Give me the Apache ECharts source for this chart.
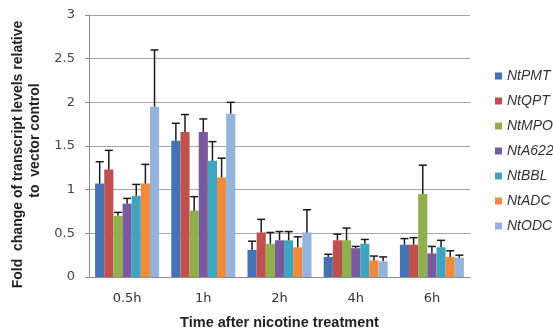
<!DOCTYPE html>
<html><head><meta charset="utf-8">
<script src="https://cdn.jsdelivr.net/npm/echarts@6/dist/echarts.min.js"></script>
<style>html,body{margin:0;padding:0;background:#fff}#c{width:553px;height:335px}</style>
</head><body><div id="c"></div>
<script>
var categories = ['0.5h','1h','2h','4h','6h'];
var seriesNames = ['NtPMT','NtQPT','NtMPO','NtA622','NtBBL','NtADC','NtODC'];
var colors = ['#4472b4','#c0504d','#8fb04f','#7a5a9e','#40a4bf','#f08a3c','#95b3dc'];
var NtPMT  = [1.07,1.56,0.31,0.23,0.37];
var NtQPT  = [1.23,1.66,0.51,0.42,0.37];
var NtMPO  = [0.70,0.76,0.38,0.42,0.95];
var NtA622 = [0.84,1.66,0.42,0.33,0.27];
var NtBBL  = [0.93,1.33,0.42,0.38,0.34];
var NtADC  = [1.07,1.14,0.34,0.19,0.23];
var NtODC  = [1.95,1.87,0.51,0.18,0.22];
// upper error bar ends
var NtPMT_err  = [1.32,1.76,0.41,0.26,0.44];
var NtQPT_err  = [1.45,1.86,0.66,0.49,0.45];
var NtMPO_err  = [0.74,0.92,0.51,0.56,1.28];
var NtA622_err = [0.90,1.81,0.52,0.35,0.35];
var NtBBL_err  = [1.06,1.55,0.52,0.43,0.42];
var NtADC_err  = [1.29,1.36,0.46,0.24,0.30];
var NtODC_err  = [2.60,2.00,0.77,0.23,0.25];
var yTicks = [0,0.5,1,1.5,2,2.5,3];

var values = [NtPMT,NtQPT,NtMPO,NtA622,NtBBL,NtADC,NtODC];
var errs = [NtPMT_err,NtQPT_err,NtMPO_err,NtA622_err,NtBBL_err,NtADC_err,NtODC_err];
var gapRatio = 0.16;
var n = seriesNames.length;

var series = [];
seriesNames.forEach(function(name,i){
  series.push({name:name,type:'bar',data:values[i],barGap:'0%',barCategoryGap:(gapRatio*100)+'%',
    itemStyle:{color:colors[i]},z:2});
});
seriesNames.forEach(function(name,i){
  series.push({type:'custom',name:name+'_err',z:3,silent:true,
    data:categories.map(function(c,k){return [k,values[i][k],errs[i][k]];}),
    renderItem:function(params,api){
      var k=api.value(0);
      var band=api.size([1,0])[0];
      var bw=band*(1-gapRatio)/n;
      var base=api.coord([k,api.value(1)]);
      var top=api.coord([k,api.value(2)]);
      var x=base[0]-band*(1-gapRatio)/2+(i+0.5)*bw;
      var cap=4;
      var st={stroke:'#1a1a1a',lineWidth:1.5};
      return {type:'group',children:[
        {type:'line',shape:{x1:x,y1:base[1],x2:x,y2:top[1]},style:st},
        {type:'line',shape:{x1:x-cap,y1:top[1],x2:x+cap,y2:top[1]},style:st}
      ]};
    }
  });
});

var titleFont = {fontFamily:'Liberation Sans',fontWeight:'bold',fontSize:14,color:'#222',lineHeight:17};
var chart = echarts.init(document.getElementById('c'),null,{renderer:'canvas'});
chart.setOption({
  animation:false,
  grid:{left:89,right:83,top:15,bottom:53},
  legend:{orient:'vertical',left:490,top:64,itemGap:11,itemWidth:7,itemHeight:7,icon:'rect',
    data:seriesNames,
    textStyle:{fontFamily:'Liberation Sans',fontStyle:'italic',fontSize:14,color:'#333'}},
  xAxis:{type:'category',data:categories,
    axisLine:{lineStyle:{color:'#8c8c8c'}},axisTick:{show:false},
    axisLabel:{fontFamily:'DejaVu Sans',fontSize:13,color:'#333',margin:15},
    name:'Time after nicotine treatment',nameLocation:'middle',nameGap:38,
    nameTextStyle:{fontFamily:'Liberation Sans',fontWeight:'bold',fontSize:14.5,color:'#222'}},
  yAxis:{type:'value',min:0,max:3,interval:0.5,
    axisLine:{show:true,lineStyle:{color:'#8c8c8c'}},
    axisTick:{show:true,length:4,lineStyle:{color:'#8c8c8c'}},
    splitLine:{lineStyle:{color:'#a6a6a6'}},
    axisLabel:{fontFamily:'DejaVu Sans',fontSize:13,color:'#444',margin:14,
      formatter:function(v){return yTicks.indexOf(v)>=0?String(v):'';}},
    name:'{a|Fold  change of transcript levels relative}\n{b|to  vector control}',nameLocation:'middle',nameGap:44,
    nameTextStyle:Object.assign({},titleFont,{rich:{
      a:Object.assign({},titleFont,{padding:[0,17,0,0]}),
      b:Object.assign({},titleFont,{padding:[0,0,0,11]})
    }})},
  series:series
});
</script></body></html>
